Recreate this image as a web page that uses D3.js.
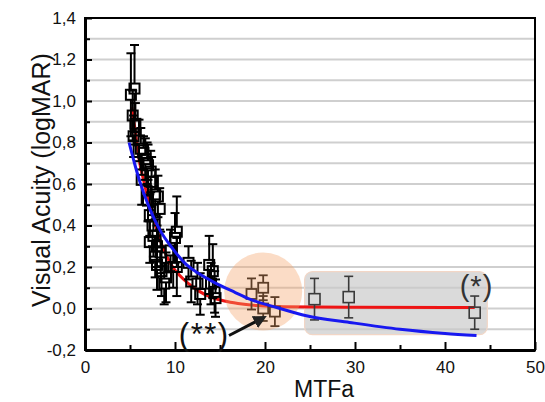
<!DOCTYPE html>
<html>
<head>
<meta charset="utf-8">
<script src="https://cdn.jsdelivr.net/npm/d3@7"></script>
<style>
  html, body { margin: 0; padding: 0; background: #fff; }
  svg { display: block; font-family: "Liberation Sans", Arial, sans-serif; }
</style>
</head>
<body>
<svg id="chart" width="545" height="402"></svg>
<script>
// ---------- data ----------
// main measurements: MTFa, visual acuity (logMAR), error (±)
const mtfa = [5.1, 5.5, 5.3, 5.6, 5.4, 6.0, 6.2, 6.5, 6.7, 7.0, 7.3, 6.9, 7.4, 6.3, 7.8, 8.1, 8.3, 7.0, 7.2, 7.5,
              7.6, 7.2, 8.0, 8.4, 7.8, 8.0, 8.5, 9.0, 8.8, 9.5, 9.8, 10.2, 10.0, 10.2, 11.5, 11.8, 12.5, 12.8, 13.8, 14.2,
              14.0, 14.4, 14.5];
const acuity = [1.03, 1.06, 0.93, 0.89, 0.83, 0.81, 0.77, 0.75, 0.72, 0.69, 0.66, 0.70, 0.61, 0.62, 0.55, 0.54, 0.48, 0.52, 0.45, 0.40,
                0.35, 0.32, 0.30, 0.27, 0.25, 0.21, 0.18, 0.15, 0.12, 0.28, 0.20, 0.37, 0.34, 0.20, 0.22, 0.13, 0.12, 0.07, 0.21, 0.18,
                0.12, 0.08, 0.05];
const acuityErr = [0.20, 0.21, 0.12, 0.10, 0.10, 0.10, 0.10, 0.08, 0.10, 0.10, 0.10, 0.10, 0.12, 0.12, 0.12, 0.10, 0.10, 0.10, 0.10, 0.10,
                   0.10, 0.10, 0.10, 0.10, 0.10, 0.12, 0.12, 0.12, 0.10, 0.10, 0.10, 0.17, 0.12, 0.14, 0.08, 0.10, 0.10, 0.10, 0.14, 0.13,
                   0.10, 0.10, 0.09];
// group (**) inside the orange circle
const mtfaCircle = [18.5, 19.8, 19.8, 21.1];
const acuityCircle = [0.07, 0.10, 0.00, -0.015];
const errCircle = [0.075, 0.06, 0.06, 0.07];
// group (*) inside the grey box
const mtfaBox = [25.5, 29.3, 43.3];
const acuityBox = [0.045, 0.055, -0.02];
const errBox = [0.10, 0.10, 0.08];
// fitted curves
const redFitX = [5.2, 5.6, 6.0, 6.5, 7.0, 7.6, 8.2, 8.9, 9.6, 10.5, 11.5, 12.6, 14.0, 15.5, 17.0, 19.0, 22.0, 30.0, 43.3];
const redFitY = [0.97, 0.85, 0.72, 0.62, 0.53, 0.44, 0.35, 0.27, 0.21, 0.16, 0.12, 0.085, 0.055, 0.036, 0.024, 0.014, 0.008, 0.006, 0.005];
const blueFitX = [4.9, 5.5, 6.1, 7.2, 8.3, 9.8, 11.3, 12.6, 14.4, 16.7, 18.3, 21.3, 24.6, 29.4, 35.0, 40.0, 43.5];
const blueFitY = [0.80, 0.70, 0.61, 0.48, 0.38, 0.285, 0.21, 0.17, 0.125, 0.077, 0.045, 0.005, -0.035, -0.067, -0.10, -0.12, -0.13];
// axes
const xTickValues = [0, 10, 20, 30, 40, 50];
const xMinorTicks = [5, 15, 25, 35, 45];
const yTickValues = [-0.2, 0.0, 0.2, 0.4, 0.6, 0.8, 1.0, 1.2, 1.4];
const yMinorTicks = [-0.1, 0.1, 0.3, 0.5, 0.7, 0.9, 1.1, 1.3];
const gridValues = [-0.1, 0.0, 0.1, 0.2, 0.3, 0.4, 0.5, 0.6, 0.7, 0.8, 0.9, 1.0, 1.1, 1.2, 1.3];
// annotation regions (data coordinates)
const boxRegion = { x0: 24.4, x1: 44.7, y0: -0.126, y1: 0.178 };
const circleCenter = { x: 19.8, y: 0.082 };
const arrowFrom = { x: 16.0, y: -0.13 };
const arrowTo = { x: 19.8, y: -0.045 };
const labelTwoStar = { x: 13.25, y: -0.178, text: "(**)" };
const labelOneStar = { x: 43.5, y: 0.06, text: "(*)" };
const xTitle = "MTFa";
const yTitle = "Visual Acuity (logMAR)";

// ---------- drawing ----------
const svg = d3.select("#chart");
const L = 85, R = 535, T = 18, B = 350;
const x = d3.scaleLinear().domain([0, 50]).range([L, R]);
const y = d3.scaleLinear().domain([-0.2, 1.4]).range([B, T]);
const fmt = v => d3.format(".1f")(v).replace(".", ",").replace("−", "-");

// gridlines
svg.append("g").selectAll("line").data(gridValues).join("line")
  .attr("x1", L).attr("x2", R).attr("y1", d => y(d)).attr("y2", d => y(d))
  .attr("stroke", "#cfcfcf").attr("stroke-width", 2);

// grey box (*)
svg.append("rect")
  .attr("x", x(boxRegion.x0)).attr("y", y(boxRegion.y1))
  .attr("width", x(boxRegion.x1) - x(boxRegion.x0)).attr("height", y(boxRegion.y0) - y(boxRegion.y1))
  .attr("rx", 8).attr("fill", "#c8c8c8").attr("fill-opacity", 0.68)
  .attr("stroke", "#f2d6c6").attr("stroke-width", 1.2);

const line = d3.line().curve(d3.curveMonotoneX);

// red fit (under the markers)
svg.append("path")
  .attr("d", line(redFitX.map((v, i) => [x(v), y(redFitY[i])])))
  .attr("fill", "none").attr("stroke", "#ee1414").attr("stroke-width", 3);

// markers
function drawMarkers(xs, ys, es, color, sw, size) {
  const g = svg.append("g").attr("stroke", color).attr("fill", "none").attr("stroke-width", sw);
  const h = size / 2, cap = 4.5;
  xs.forEach((xv, i) => {
    const cx = x(xv), cy = y(ys[i]), top = y(ys[i] + es[i]), bot = y(ys[i] - es[i]);
    g.append("line").attr("x1", cx).attr("x2", cx).attr("y1", top).attr("y2", cy - h);
    g.append("line").attr("x1", cx).attr("x2", cx).attr("y1", cy + h).attr("y2", bot);
    g.append("line").attr("x1", cx - cap).attr("x2", cx + cap).attr("y1", top).attr("y2", top);
    g.append("line").attr("x1", cx - cap).attr("x2", cx + cap).attr("y1", bot).attr("y2", bot);
    g.append("rect").attr("x", cx - h).attr("y", cy - h).attr("width", size).attr("height", size);
  });
}
drawMarkers(mtfa, acuity, acuityErr, "#000", 2, 10);
drawMarkers(mtfaCircle, acuityCircle, errCircle, "#000", 1.8, 10);
drawMarkers(mtfaBox, acuityBox, errBox, "#3a3a3a", 1.6, 11);

// orange circle (**)
svg.append("circle")
  .attr("cx", x(circleCenter.x)).attr("cy", y(circleCenter.y)).attr("r", 39)
  .attr("fill", "#f4a46a").attr("fill-opacity", 0.38);

// blue fit (on top)
svg.append("path")
  .attr("d", line(blueFitX.map((v, i) => [x(v), y(blueFitY[i])])))
  .attr("fill", "none").attr("stroke", "#1818f0").attr("stroke-width", 3);

// frame
svg.append("rect").attr("x", L).attr("y", T).attr("width", R - L).attr("height", B - T)
  .attr("fill", "none").attr("stroke", "#000").attr("stroke-width", 2);

// axes
const xAxis = d3.axisBottom(x).tickValues(xTickValues).tickSize(-8).tickSizeOuter(0).tickPadding(11).tickFormat(d3.format("d"));
const gx = svg.append("g").attr("transform", `translate(0,${B})`).call(xAxis);
gx.select(".domain").attr("stroke-width", 3);
gx.selectAll(".tick line").attr("stroke-width", 2);
gx.selectAll("text").attr("font-size", 17).attr("fill", "#111");
const gxm = svg.append("g").attr("transform", `translate(0,${B})`)
  .call(d3.axisBottom(x).tickValues(xMinorTicks).tickSize(-5).tickSizeOuter(0).tickFormat(""));
gxm.select(".domain").remove();
gxm.selectAll(".tick line").attr("stroke-width", 2);

const yAxis = d3.axisLeft(y).tickValues(yTickValues).tickSize(-7).tickSizeOuter(0).tickPadding(9).tickFormat(fmt);
const gy = svg.append("g").attr("transform", `translate(${L},0)`).call(yAxis);
gy.select(".domain").attr("stroke-width", 3);
gy.selectAll(".tick line").attr("stroke-width", 2);
gy.selectAll("text").attr("font-size", 17).attr("fill", "#111");
const gym = svg.append("g").attr("transform", `translate(${L},0)`)
  .call(d3.axisLeft(y).tickValues(yMinorTicks).tickSize(-5).tickSizeOuter(0).tickFormat(""));
gym.select(".domain").remove();
gym.selectAll(".tick line").attr("stroke-width", 2);

// titles
svg.append("text").attr("x", 324).attr("y", 397).attr("text-anchor", "middle")
  .attr("font-size", 23).attr("fill", "#111").text(xTitle);
svg.append("text").attr("transform", "translate(50,180) rotate(-90)").attr("text-anchor", "middle")
  .attr("font-size", 25).attr("fill", "#111").text(yTitle);

// annotations
svg.append("defs").append("marker").attr("id", "ah").attr("viewBox", "0 0 10 10")
  .attr("refX", 7).attr("refY", 5).attr("markerWidth", 4.5).attr("markerHeight", 4.5).attr("orient", "auto")
  .attr("markerUnits", "strokeWidth")
  .append("path").attr("d", "M0,0 L10,5 L0,10 z").attr("fill", "#222");
svg.append("line")
  .attr("x1", x(arrowFrom.x)).attr("y1", y(arrowFrom.y)).attr("x2", x(arrowTo.x)).attr("y2", y(arrowTo.y))
  .attr("stroke", "#111").attr("stroke-width", 3).attr("marker-end", "url(#ah)");
svg.append("text").attr("x", x(labelTwoStar.x)).attr("y", y(labelTwoStar.y)).attr("text-anchor", "middle")
  .attr("font-size", 31).attr("letter-spacing", 1.5).attr("fill", "#111").text(labelTwoStar.text);
svg.append("text").attr("x", x(labelOneStar.x)).attr("y", y(labelOneStar.y)).attr("text-anchor", "middle")
  .attr("font-size", 29).attr("letter-spacing", 1).attr("fill", "#333").text(labelOneStar.text);
</script>
</body>
</html>
